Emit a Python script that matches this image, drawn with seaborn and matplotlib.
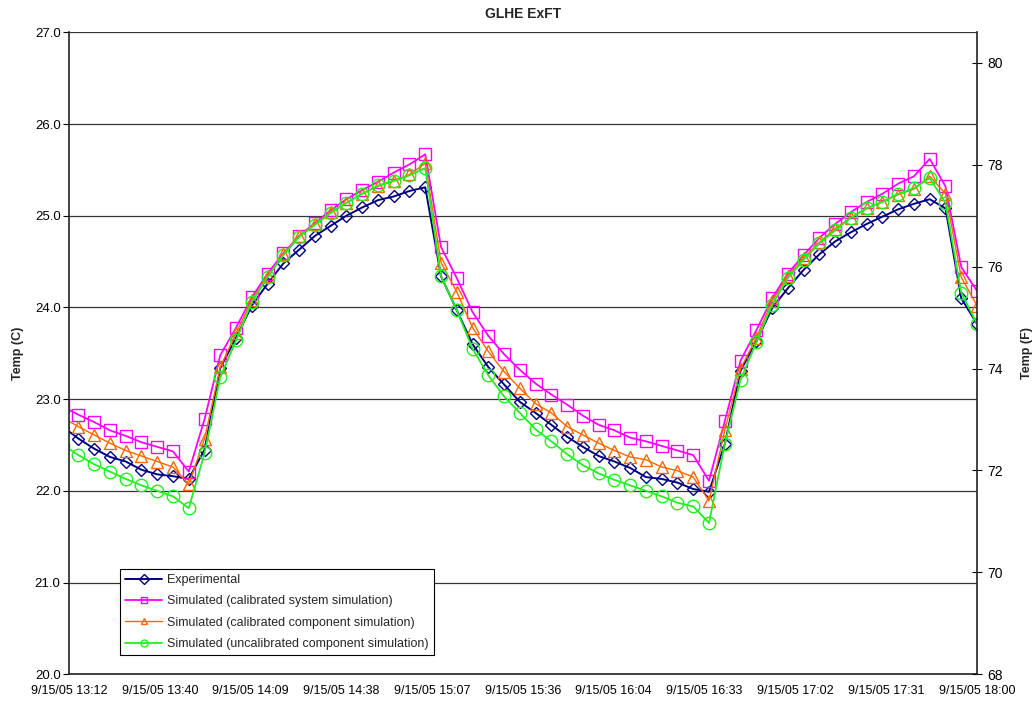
import pandas as pd
import matplotlib
matplotlib.use("Agg")
import matplotlib.pyplot as plt
import seaborn as sns

# 5-minute readings, 13:10 .. 18:00 on 9/15/05
times = pd.date_range("2005-09-15 13:10", "2005-09-15 18:00", freq="5min")

experimental = [
    22.70, 22.57, 22.46, 22.37, 22.32, 22.23, 22.18, 22.16, 22.13,
    22.45, 23.34, 23.67, 24.02, 24.26, 24.48, 24.63, 24.78, 24.89, 25.00, 25.09, 25.17, 25.21, 25.27, 25.31,
    24.34, 23.97, 23.60, 23.35, 23.16, 22.97, 22.85, 22.72, 22.59, 22.48, 22.38, 22.32, 22.25, 22.15, 22.13, 22.09, 22.02, 21.99,
    22.51, 23.31, 23.63, 23.99, 24.21, 24.41, 24.58, 24.72, 24.82, 24.91, 24.99, 25.07, 25.13, 25.18,
    25.08, 24.10, 23.82,
]
cal_system = [
    22.92, 22.83, 22.75, 22.66, 22.60, 22.53, 22.48, 22.43, 22.21,
    22.78, 23.48, 23.78, 24.11, 24.37, 24.59, 24.78, 24.92, 25.06, 25.18, 25.28, 25.37, 25.47, 25.56, 25.67,
    24.66, 24.32, 23.95, 23.69, 23.49, 23.32, 23.17, 23.05, 22.94, 22.82, 22.72, 22.66, 22.58, 22.54, 22.49, 22.44, 22.39, 22.11,
    22.76, 23.42, 23.75, 24.10, 24.37, 24.57, 24.76, 24.91, 25.04, 25.15, 25.24, 25.35, 25.43, 25.62,
    25.32, 24.44, 24.18,
]
cal_component = [
    22.80, 22.70, 22.61, 22.52, 22.44, 22.38, 22.32, 22.26, 22.07,
    22.57, 23.35, 23.72, 24.08, 24.34, 24.58, 24.78, 24.91, 25.04, 25.14, 25.24, 25.32, 25.38, 25.45, 25.57,
    24.49, 24.17, 23.78, 23.52, 23.30, 23.12, 22.95, 22.85, 22.70, 22.61, 22.52, 22.44, 22.37, 22.34, 22.26, 22.22, 22.15, 21.89,
    22.66, 23.33, 23.67, 24.07, 24.34, 24.54, 24.71, 24.86, 24.98, 25.08, 25.15, 25.23, 25.29, 25.43,
    25.24, 24.33, 24.02,
]
uncal_component = [
    22.50, 22.39, 22.29, 22.21, 22.13, 22.06, 22.00, 21.94, 21.81,
    22.41, 23.24, 23.64, 24.06, 24.33, 24.57, 24.77, 24.90, 25.03, 25.14, 25.24, 25.33, 25.38, 25.44, 25.52,
    24.34, 23.97, 23.55, 23.26, 23.03, 22.85, 22.67, 22.54, 22.40, 22.28, 22.19, 22.12, 22.06, 22.00, 21.94, 21.87, 21.83, 21.65,
    22.51, 23.21, 23.62, 24.03, 24.32, 24.52, 24.70, 24.84, 24.98, 25.08, 25.15, 25.24, 25.30, 25.41,
    25.14, 24.16, 23.82,
]

labels = [
    "Experimental",
    "Simulated (calibrated system simulation)",
    "Simulated (calibrated component simulation)",
    "Simulated (uncalibrated component simulation)",
]

xtick_times = pd.date_range("2005-09-15 13:12", "2005-09-15 18:00", periods=11)
xtick_labels = [f"{t.month}/{t.day}/{t:%y} {t:%H:%M}" for t in xtick_times]
c_ticks = [20.0, 21.0, 22.0, 23.0, 24.0, 25.0, 26.0, 27.0]
f_ticks = [68, 70, 72, 74, 76, 78, 80]

sns.set_style("white")
plt.rcParams["font.family"] = ["Liberation Sans", "DejaVu Sans"]
plt.rcParams["font.size"] = 9

fig = plt.figure(figsize=(10.34, 7.04), dpi=100)
ax = fig.add_axes([0.0667, 0.0422, 0.8782, 0.9119])

styles = [
    dict(color="#000080", marker="D", markersize=6, lw=1.4),
    dict(color="#FF00FF", marker="s", markersize=9, lw=1.3),
    dict(color="#FF6600", marker="^", markersize=9, lw=1.0),
    dict(color="#22EE22", marker="o", markersize=9, lw=1.3),
]
for vals, lab, st in zip([experimental, cal_system, cal_component, uncal_component], labels, styles):
    sns.lineplot(x=times, y=vals, ax=ax, label=lab, color=st["color"], lw=st["lw"],
                 marker=st["marker"], markersize=st["markersize"], markerfacecolor="none",
                 markeredgecolor=st["color"], markeredgewidth=1.0)

ax.set_xlim(xtick_times[0], xtick_times[-1])
ax.set_ylim(20, 27)
ax.set_yticks(c_ticks)
ax.set_yticklabels([f"{v:.1f}" for v in c_ticks], fontsize=9.5)
ax.set_xticks(xtick_times)
ax.set_xticklabels(xtick_labels, fontsize=9)
ax.tick_params(axis="x", direction="in", length=4, width=0.8, colors="black", pad=8)
ax.tick_params(axis="y", direction="out", length=4, width=0.8, colors="black", pad=2)
ax.grid(axis="y", color="#333333", lw=0.9)
ax.grid(axis="x", visible=False)
for s in ["left", "bottom"]:
    ax.spines[s].set_color("#222222")
    ax.spines[s].set_linewidth(1.2)
ax.spines["top"].set_visible(False)
ax.spines["right"].set_visible(False)
ax.set_xlabel("")
ax.set_ylabel("Temp (C)", fontweight="bold", fontsize=9, labelpad=8)
ax.set_title("GLHE ExFT", fontweight="bold", fontsize=10, pad=10)

ax2 = ax.twinx()
ax2.set_ylim(20 * 9 / 5 + 32, 27 * 9 / 5 + 32)
ax2.set_yticks(f_ticks)
ax2.set_yticklabels([str(v) for v in f_ticks], fontsize=10)
ax2.tick_params(axis="y", direction="inout", length=7, width=0.8, colors="black", pad=4)
ax2.grid(False)
for s in ["left", "top", "bottom"]:
    ax2.spines[s].set_visible(False)
ax2.spines["right"].set_visible(True)
ax2.spines["right"].set_color("#222222")
ax2.spines["right"].set_linewidth(1.2)
ax2.set_ylabel("Temp (F)", fontweight="bold", fontsize=9, labelpad=13)

leg = ax.legend(loc="lower left", bbox_to_anchor=(0.056, 0.03), frameon=True, fancybox=False,
                framealpha=1, edgecolor="black", fontsize=9, handlelength=3.0,
                labelspacing=0.75, borderpad=0.4, handletextpad=0.4, borderaxespad=0)
leg.get_frame().set_linewidth(0.8)
for line in leg.get_lines():
    line.set_markersize(5)

fig.savefig("out.png", dpi=100)
